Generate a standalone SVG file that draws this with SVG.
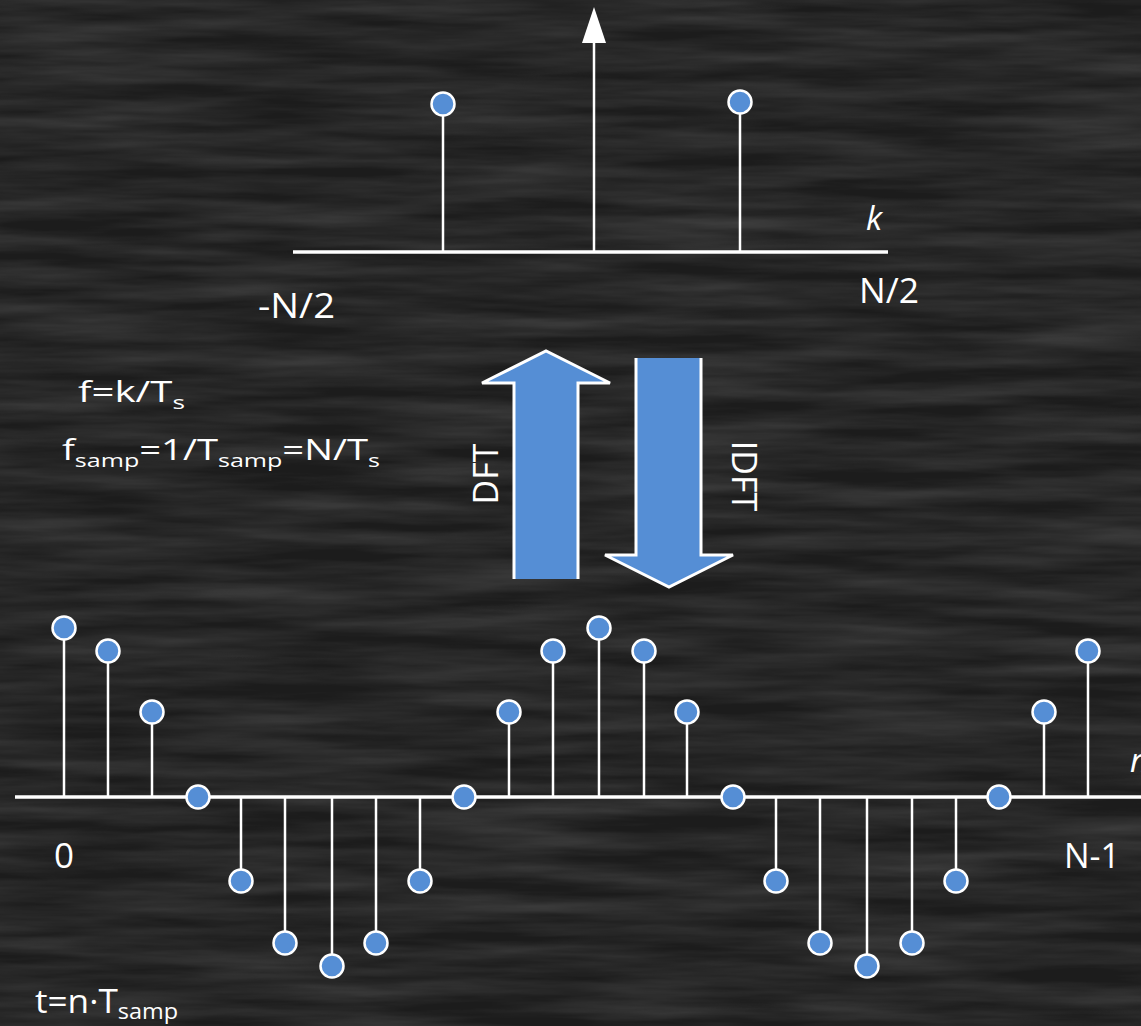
<svg xmlns="http://www.w3.org/2000/svg" width="1141" height="1026" viewBox="0 0 1141 1026">
<style>
.ax{stroke:#fff;stroke-width:3.5;fill:none}
.st{stroke:#fff;stroke-width:2.5;fill:none}
.dot{fill:#558ed5;stroke:#fff;stroke-width:2.5}
.t{font-family:"Open Sans","Noto Sans",sans-serif;fill:#fff}
.i{font-style:italic}
.blk{fill:#558ed5}
.out{fill:none;stroke:#fff;stroke-width:3;stroke-linejoin:miter}
</style>
<defs>
<filter id="chalk" x="0" y="0" width="100%" height="100%">
<feTurbulence type="fractalNoise" baseFrequency="0.005 0.06" numOctaves="4" seed="7"/>
<feColorMatrix type="matrix" values="0 0 0 0 1  0 0 0 0 1  0 0 0 0 1  0.22 0 0 0 -0.06"/>
</filter>
</defs>
<rect width="1141" height="1026" fill="#1c1c1c"/>
<rect width="1141" height="1026" filter="url(#chalk)"/>

<g id="spectrum">
<line class="ax" x1="293" y1="252" x2="888" y2="252"/>
<line class="st" x1="594" y1="252" x2="594" y2="40"/>
<polygon points="582,43 594,7 606,43" fill="#fff"/>
<line class="st" x1="443" y1="252" x2="443" y2="104"/>
<circle class="dot" cx="443" cy="104" r="11.5"/>
<line class="st" x1="740" y1="252" x2="740" y2="102"/>
<circle class="dot" cx="740" cy="102" r="11.5"/>
<text class="t i" x="866" y="230" font-size="33">k</text>
<text class="t" x="258" y="318" font-size="35" textLength="77" lengthAdjust="spacingAndGlyphs">-N/2</text>
<text class="t" x="859" y="303" font-size="35" textLength="60" lengthAdjust="spacingAndGlyphs">N/2</text>
</g>

<g id="formulas">
<text class="t" x="78" y="402" font-size="29" textLength="107" lengthAdjust="spacingAndGlyphs">f=k/T<tspan font-size="19" dy="7">s</tspan></text>
<text class="t" x="62" y="460" font-size="29" textLength="318" lengthAdjust="spacingAndGlyphs">f<tspan font-size="19" dy="7">samp</tspan><tspan dy="-7">=1/T</tspan><tspan font-size="19" dy="7">samp</tspan><tspan dy="-7">=N/T</tspan><tspan font-size="19" dy="7">s</tspan></text>
<text class="t" x="35" y="1013" font-size="33" textLength="143" lengthAdjust="spacingAndGlyphs">t=n·T<tspan font-size="22" dy="6">samp</tspan></text>
</g>

<g id="dft">
<polygon class="blk" points="514,579 514,383 482,383 546,351 610,383 578,383 578,579"/>
<polyline class="out" points="514,579 514,383 482,383 546,351 610,383 578,383 578,579"/>
<text class="t" transform="translate(498,474) rotate(-90)" text-anchor="middle" font-size="34">DFT</text>
</g>

<g id="idft">
<polygon class="blk" points="636,358 636,555 605,555 669,587 733,555 701,555 701,358"/>
<polyline class="out" points="636,358 636,555 605,555 669,587 733,555 701,555 701,358"/>
<text class="t" transform="translate(732,476) rotate(90)" text-anchor="middle" font-size="34">IDFT</text>
</g>

<g id="signal">
<line class="ax" x1="15" y1="797" x2="1141" y2="797"/>
<line class="st" x1="64" y1="797" x2="64" y2="628"/><circle class="dot" cx="64" cy="628" r="11.5"/>
<line class="st" x1="108" y1="797" x2="108" y2="651"/><circle class="dot" cx="108" cy="651" r="11.5"/>
<line class="st" x1="152" y1="797" x2="152" y2="712"/><circle class="dot" cx="152" cy="712" r="11.5"/>
<circle class="dot" cx="198" cy="797" r="11.5"/>
<line class="st" x1="241" y1="797" x2="241" y2="881"/><circle class="dot" cx="241" cy="881" r="11.5"/>
<line class="st" x1="285" y1="797" x2="285" y2="943"/><circle class="dot" cx="285" cy="943" r="11.5"/>
<line class="st" x1="332" y1="797" x2="332" y2="966"/><circle class="dot" cx="332" cy="966" r="11.5"/>
<line class="st" x1="376" y1="797" x2="376" y2="943"/><circle class="dot" cx="376" cy="943" r="11.5"/>
<line class="st" x1="420" y1="797" x2="420" y2="881"/><circle class="dot" cx="420" cy="881" r="11.5"/>
<circle class="dot" cx="464" cy="797" r="11.5"/>
<line class="st" x1="509" y1="797" x2="509" y2="712"/><circle class="dot" cx="509" cy="712" r="11.5"/>
<line class="st" x1="553" y1="797" x2="553" y2="651"/><circle class="dot" cx="553" cy="651" r="11.5"/>
<line class="st" x1="599" y1="797" x2="599" y2="628"/><circle class="dot" cx="599" cy="628" r="11.5"/>
<line class="st" x1="644" y1="797" x2="644" y2="651"/><circle class="dot" cx="644" cy="651" r="11.5"/>
<line class="st" x1="687" y1="797" x2="687" y2="712"/><circle class="dot" cx="687" cy="712" r="11.5"/>
<circle class="dot" cx="733" cy="797" r="11.5"/>
<line class="st" x1="776" y1="797" x2="776" y2="881"/><circle class="dot" cx="776" cy="881" r="11.5"/>
<line class="st" x1="820" y1="797" x2="820" y2="943"/><circle class="dot" cx="820" cy="943" r="11.5"/>
<line class="st" x1="867" y1="797" x2="867" y2="966"/><circle class="dot" cx="867" cy="966" r="11.5"/>
<line class="st" x1="912" y1="797" x2="912" y2="943"/><circle class="dot" cx="912" cy="943" r="11.5"/>
<line class="st" x1="956" y1="797" x2="956" y2="881"/><circle class="dot" cx="956" cy="881" r="11.5"/>
<circle class="dot" cx="999" cy="797" r="11.5"/>
<line class="st" x1="1044" y1="797" x2="1044" y2="712"/><circle class="dot" cx="1044" cy="712" r="11.5"/>
<line class="st" x1="1088" y1="797" x2="1088" y2="651"/><circle class="dot" cx="1088" cy="651" r="11.5"/>
<text class="t" x="54" y="868" font-size="35">0</text>
<text class="t" x="1064" y="868" font-size="35" textLength="56" lengthAdjust="spacingAndGlyphs">N-1</text>
<text class="t i" x="1130" y="772" font-size="32">n</text>
</g>
</svg>
